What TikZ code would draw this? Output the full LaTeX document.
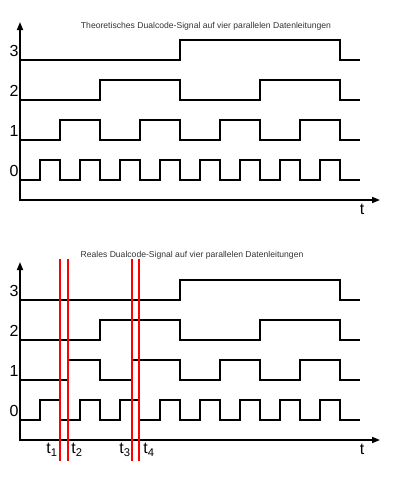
\documentclass[tikz,border=0pt]{standalone}
\usepackage{fontspec}
\setmainfont{Liberation Sans}
\usepackage{xcolor}
\usepackage{tikz}
\usetikzlibrary{arrows.meta}
\definecolor{ink}{HTML}{000000}
\definecolor{marker}{HTML}{FF0000}
\definecolor{caption}{HTML}{333333}
\tikzset{
  sigline/.style={draw=ink, line width=1.6pt, line join=miter},
  axisline/.style={draw=ink, line width=1.6pt, line join=miter, {Triangle[length=8pt,width=6pt]}-{Triangle[length=8pt,width=6pt]}},
  markline/.style={draw=marker, line width=2pt},
  lab/.style={text=ink, font=\fontsize{16}{18}\selectfont, inner sep=0pt},
  ttl/.style={text=caption, font=\fontsize{8.6}{10}\selectfont, inner sep=0pt},
}

\begin{document}
\begin{tikzpicture}[x=1pt,y=-1pt]
  \useasboundingbox (0,0) rectangle (400,480);
  % theoretical signal
  \node[ttl] (title1) at (206,26) {Theoretisches Dualcode-Signal auf vier parallelen Datenleitungen};
  \draw[axisline] (20,22) -- (20,200) -- (380,200);
  \draw[sigline] (20,60) -| (180,40) -| (340,60) -- (360,60);
  \draw[sigline] (20,100) -| (100,80) -| (180,100) -| (260,80) -| (340,100) -- (360,100);
  \draw[sigline] (20,140) \foreach \k in {0,...,3}{ -| ({60+80*\k},120) -| ({100+80*\k},140)} -- (360,140);
  \draw[sigline] (20,180) \foreach \k in {0,...,7}{ -| ({40+40*\k},160) -| ({60+40*\k},180)} -- (360,180);
  \node[lab] (b3) at (14,51) {3};
  \node[lab] (b2) at (14,91) {2};
  \node[lab] (b1) at (14,131) {1};
  \node[lab] (b0) at (14,171) {0};
  \node[lab] (time1) at (362,209) {t};
  % real signal
  \node[ttl] (title2) at (192,255) {Reales Dualcode-Signal auf vier parallelen Datenleitungen};
  \draw[axisline] (20,262) -- (20,440) -- (380,440);
  \draw[sigline] (20,300) -| (180,280) -| (340,300) -- (360,300);
  \draw[sigline] (20,340) -| (100,320) -| (180,340) -| (260,320) -| (340,340) -- (360,340);
  \draw[sigline] (20,380) -| (68,360) -| (100,380) -| (132,360) -| (180,380) -| (220,360) -| (260,380) -| (300,360) -| (340,380) -- (360,380);
  \draw[sigline] (20,420) -| (40,400) -| (60,420) -| (80,400) -| (100,420) -| (120,400) -| (139,420)
    \foreach \k in {3,...,7}{ -| ({40+40*\k},400) -| ({60+40*\k},420)} -- (360,420);
  \node[lab] (r3) at (14,291) {3};
  \node[lab] (r2) at (14,331) {2};
  \node[lab] (r1) at (14,371) {1};
  \node[lab] (r0) at (14,411) {0};
  \node[lab] (time2) at (362,449) {t};
  % switching instants
  \foreach \x/\i in {60/1,68/2,132/3,139/4}{
    \coordinate (top\i) at (\x,259);
    \coordinate (bot\i) at (\x,461);
    \draw[markline] (top\i) -- (bot\i);
  }
  \node[lab] (t1) at (52,450) {t\textsubscript{1}};
  \node[lab] (t2) at (77,450) {t\textsubscript{2}};
  \node[lab] (t3) at (125,450) {t\textsubscript{3}};
  \node[lab] (t4) at (149,450) {t\textsubscript{4}};
\end{tikzpicture}
\end{document}
